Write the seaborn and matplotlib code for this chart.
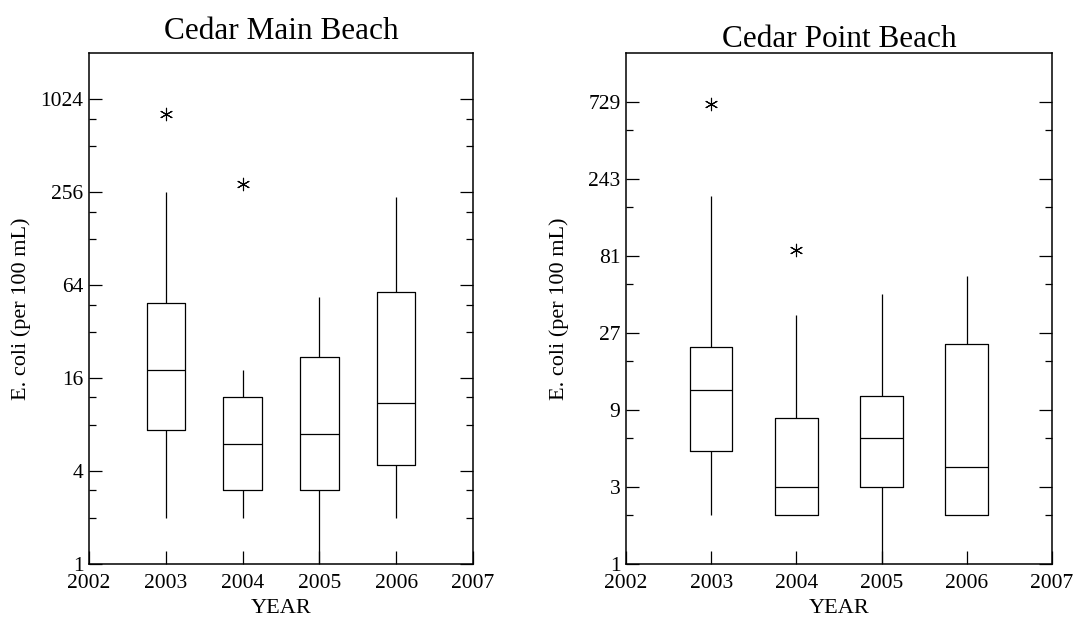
import matplotlib
matplotlib.use("Agg")
import matplotlib.pyplot as plt
import seaborn as sns
import pandas as pd

# ---- data ----
years = [2003, 2004, 2005, 2006]

main_whislo = [2, 2, 1, 2]
main_q1 = [7.4, 3, 3, 4.4]
main_med = [18, 6, 7, 11]
main_q3 = [49, 12, 22, 58]
main_whishi = [256, 18, 54, 240]
main_out_years = [2003, 2004]
main_outliers = [820, 288]

point_whislo = [2, 2, 1, 2]
point_q1 = [5, 2, 3, 2]
point_med = [12, 3, 6, 4]
point_q3 = [22, 8, 11, 23]
point_whishi = [189, 35, 47, 61]
point_out_years = [2003, 2004]
point_outliers = [708, 88]

main_major = [1, 4, 16, 64, 256, 1024]
main_minor = [2, 3, 8, 12, 32, 48, 128, 192, 512, 768]
point_major = [1, 3, 9, 27, 81, 243, 729]
point_minor = [2, 6, 18, 54, 162, 486]
year_ticks = [2002, 2003, 2004, 2005, 2006, 2007]

titles = ["Cedar Main Beach", "Cedar Point Beach"]
ylabel = "E. coli (per 100 mL)"
xlabel = "YEAR"


def long_frame(lo, q1, med, q3, hi):
    rows = []
    for i, yr in enumerate(years):
        for v in (lo[i], q1[i], med[i], q3[i], hi[i]):
            rows.append({"year": yr, "value": v})
    return pd.DataFrame(rows)


sns.set_theme(style="white")
plt.rcParams["font.family"] = ["Liberation Serif", "DejaVu Serif"]
plt.rcParams["text.color"] = "black"
plt.rcParams["axes.labelcolor"] = "black"
plt.rcParams["xtick.color"] = "black"
plt.rcParams["ytick.color"] = "black"

fig = plt.figure(figsize=(10.76, 6.18), dpi=100)
ax1 = fig.add_axes([89 / 1076, 54 / 618, 384 / 1076, 511 / 618])
ax2 = fig.add_axes([626 / 1076, 54 / 618, 426 / 1076, 511 / 618])

panels = [
    (ax1, long_frame(main_whislo, main_q1, main_med, main_q3, main_whishi),
     main_out_years, main_outliers, main_major, main_minor, (1, 2048), 1.043, -0.151),
    (ax2, long_frame(point_whislo, point_q1, point_med, point_q3, point_whishi),
     point_out_years, point_outliers, point_major, point_minor, (1, 1458), 1.027, -0.134),
]

for k, (ax, df, oy, ov, major, minor, ylim, ty, ylx) in enumerate(panels):
    sns.boxplot(data=df, x="year", y="value", native_scale=True, log_scale=(False, True),
                whis=(0, 100), showcaps=False, fill=False, color="black",
                linecolor="black", linewidth=0.9, width=0.5, ax=ax)
    sns.scatterplot(x=oy, y=ov, marker=(6, 2, 0), s=80, color="black",
                    edgecolor="black", linewidth=0.8, ax=ax)
    ax.set_xlim(2002, 2007)
    ax.set_ylim(*ylim)
    ax.set_xticks(year_ticks)
    ax.set_xticklabels([str(y) for y in year_ticks])
    ax.set_yticks(major)
    ax.set_yticklabels([str(v) for v in major])
    ax.set_yticks(minor, minor=True)
    ax.set_yticklabels([], minor=True)
    ax.tick_params(axis="both", which="major", direction="in", length=9.5, width=0.9,
                   labelsize=15.5)
    ax.tick_params(axis="y", which="major", pad=4)
    ax.tick_params(axis="x", which="major", pad=7.5)
    ax.tick_params(axis="y", which="both", left=True, right=True)
    ax.tick_params(axis="y", which="minor", direction="in", length=5, width=0.9)
    ax.tick_params(axis="x", which="both", bottom=True, top=False)
    ax.tick_params(axis="x", which="minor", bottom=False)
    for sp in ax.spines.values():
        sp.set_visible(True)
        sp.set_color("black")
        sp.set_linewidth(1.1)
    ax.set_xlabel(xlabel, fontsize=16)
    ax.set_ylabel(ylabel, fontsize=16)
    ax.xaxis.set_label_coords(0.5, -0.068)
    ax.yaxis.set_label_coords(ylx, 0.5)
    ax.text(0.5, ty, titles[k], transform=ax.transAxes, ha="center", va="center",
            fontsize=22.5)
    ax.grid(False)

fig.savefig("out.png", dpi=100, facecolor="white")
